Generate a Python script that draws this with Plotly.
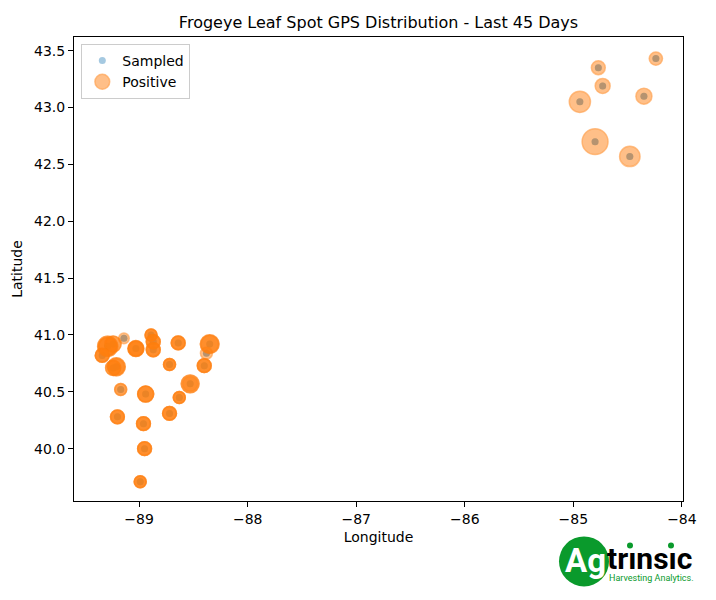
import numpy as np
import plotly.graph_objects as go

# fields sampled in the last 45 days (several samples per field)
field_lon = [-84.24, -84.77, -84.73, -84.35, -84.94, -84.80, -84.48,
             -89.14, -89.29, -89.24, -89.34, -89.21, -89.24, -89.03, -88.89,
             -88.87, -88.87, -88.64, -88.35, -88.38, -88.72, -88.40, -88.53,
             -89.17, -88.94, -88.63, -89.20, -88.72, -88.96, -88.95, -88.99]
field_lat = [43.43, 43.35, 43.19, 43.10, 43.05, 42.70, 42.57,
             40.97, 40.90, 40.92, 40.82, 40.72, 40.71, 40.88, 41.00,
             40.94, 40.87, 40.93, 40.92, 40.84, 40.74, 40.73, 40.57,
             40.52, 40.48, 40.45, 40.28, 40.31, 40.22, 40.00, 39.71]
samples_per_field = [2, 2, 2, 2, 2, 2, 2,
                     2, 2, 2, 2, 2, 2, 2, 2,
                     2, 2, 2, 2, 2, 2, 2, 2,
                     2, 2, 2, 2, 2, 2, 2, 2]

# positive detections: location, incidence (%), number of positive visits
pos_lon = [-84.24, -84.77, -84.73, -84.35, -84.94, -84.80, -84.48,
           -89.14, -89.29, -89.29, -89.24, -89.34, -89.21, -89.21, -89.24,
           -89.03, -89.03, -88.89, -88.87, -88.87, -88.64, -88.35, -88.35,
           -88.38, -88.72, -88.40, -88.53, -88.53, -89.17, -88.94, -88.63,
           -89.20, -88.72, -88.96, -88.95, -88.99]
pos_lat = [43.43, 43.35, 43.19, 43.10, 43.05, 42.70, 42.57,
           40.97, 40.90, 40.90, 40.92, 40.82, 40.72, 40.72, 40.71,
           40.88, 40.88, 41.00, 40.94, 40.87, 40.93, 40.92, 40.92,
           40.84, 40.74, 40.73, 40.57, 40.57, 40.52, 40.48, 40.45,
           40.28, 40.31, 40.22, 40.00, 39.71]
pos_incidence = [11, 12, 14, 16, 28, 42, 26,
                 7, 25, 20, 16, 12, 20, 16, 14,
                 16, 14, 9, 12, 12, 12, 22, 18,
                 9, 9, 12, 20, 14, 9, 16, 9,
                 12, 12, 12, 12, 9]
pos_visits = [1, 1, 1, 1, 1, 1, 1,
              1, 2, 2, 2, 3, 2, 1, 2,
              2, 2, 3, 3, 3, 3, 2, 1,
              1, 3, 3, 2, 1, 2, 3, 3,
              3, 3, 3, 3, 3]

x_ticks = [-89, -88, -87, -86, -85, -84]
y_ticks = [40.0, 40.5, 41.0, 41.5, 42.0, 42.5, 43.0, 43.5]

FONT = "DejaVu Sans"
BLUE = "rgba(31,119,180,0.4)"
ORANGE = "rgba(255,127,14,0.7)"
GREEN = "#0a9a2c"

s_lon = np.repeat(field_lon, samples_per_field)
s_lat = np.repeat(field_lat, samples_per_field)
p_lon = np.repeat(pos_lon, pos_visits)
p_lat = np.repeat(pos_lat, pos_visits)
p_inc = np.repeat(pos_incidence, pos_visits)

fig = go.Figure()

fig.add_trace(go.Scatter(x=s_lon, y=s_lat, mode="markers", name="Sampled",
                         marker=dict(size=7, color=BLUE, line=dict(width=0))))

fig.add_trace(go.Scatter(x=p_lon, y=p_lat, mode="markers", name="Positive",
                         marker=dict(size=4 * np.sqrt(p_inc), color=ORANGE,
                                     line=dict(width=1.5, color=ORANGE))))

axis_style = dict(showgrid=False, zeroline=False, showline=True, linecolor="black",
                  linewidth=1, mirror=True, ticks="outside", ticklen=5, tickwidth=1,
                  tickcolor="black", tickfont=dict(size=14, color="black", family=FONT))

fig.update_xaxes(range=[-89.6, -83.99], tickvals=x_ticks,
                 title=dict(text="Longitude", font=dict(size=14, color="black", family=FONT), standoff=6),
                 **axis_style)
fig.update_yaxes(range=[39.54, 43.62], tickvals=y_ticks, tickformat=".1f",
                 title=dict(text="Latitude", font=dict(size=14, color="black", family=FONT), standoff=8),
                 **axis_style)

# logo, pixel positions converted to paper coordinates
def px(x):
    return (x - 74) / 609

def py(y):
    return (501.5 - y) / 464.5

shapes = [dict(type="circle", xref="paper", yref="paper", x0=px(559), x1=px(609),
               y0=py(587), y1=py(537), fillcolor=GREEN, line=dict(width=0))]
for cx in [630, 671]:
    shapes.append(dict(type="circle", xref="paper", yref="paper", x0=px(cx - 3), x1=px(cx + 3),
                       y0=py(549), y1=py(543), fillcolor=GREEN, line=dict(width=0)))

annotations = [
    dict(text="<b>Ag</b>", x=px(585), y=py(561), xref="paper", yref="paper", showarrow=False,
         font=dict(size=33, color="white", family="Roboto"), xanchor="center", yanchor="middle"),
    dict(text="<b>tr\u0131ns\u0131c</b>", x=px(605), y=py(559), xref="paper", yref="paper",
         showarrow=False, font=dict(size=30, color="black", family="Roboto"),
         xanchor="left", yanchor="middle"),
    dict(text="Harvesting Analytics.", x=px(607), y=py(579), xref="paper", yref="paper",
         showarrow=False, font=dict(size=9, color=GREEN, family="Roboto"),
         xanchor="left", yanchor="middle"),
]

fig.update_layout(
    width=716, height=600,
    margin=dict(l=74, r=33, t=37, b=98.5),
    paper_bgcolor="white", plot_bgcolor="white",
    font=dict(family=FONT, color="black"),
    title=dict(text="Frogeye Leaf Spot GPS Distribution - Last 45 Days", x=0.5, xref="paper",
               y=1 - 22 / 600, yref="container", yanchor="middle",
               font=dict(size=16, color="black", family=FONT)),
    legend=dict(x=0.012, y=0.985, xanchor="left", yanchor="top", bgcolor="rgba(255,255,255,0.8)",
                bordercolor="#cccccc", borderwidth=1, font=dict(size=14, family=FONT)),
    shapes=shapes,
    annotations=annotations,
)

fig.write_html("out.html", config={"displayModeBar": False},
               post_script="document.body.style.margin='0';")
